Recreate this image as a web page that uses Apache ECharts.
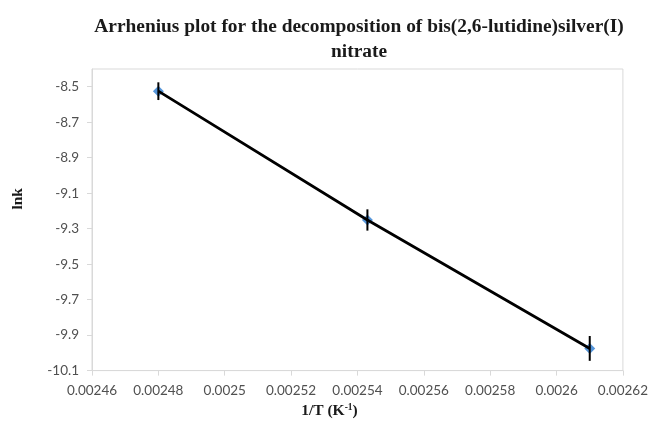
<!DOCTYPE html>
<html>
<head>
<meta charset="utf-8">
<script src="https://cdn.jsdelivr.net/npm/echarts@6/dist/echarts.min.js"></script>
<style>html,body{margin:0;padding:0;background:#fff}#c{width:651px;height:424px}</style>
</head>
<body>
<div id="c"></div>
<script>
// Data
const invT = [0.00248, 0.002543, 0.00261];
const lnk = [-8.525, -9.251, -9.975];
const lnkErr = [0.05, 0.06, 0.07];
const xTicks = [0.00246, 0.00248, 0.0025, 0.00252, 0.00254, 0.00256, 0.00258, 0.0026, 0.00262];
const yTicks = [-10.1, -9.9, -9.7, -9.5, -9.3, -9.1, -8.9, -8.7, -8.5];

const points = invT.map((x, i) => [x, lnk[i]]);
const errData = invT.map((x, i) => [x, lnk[i] - lnkErr[i], lnk[i] + lnkErr[i]]);

const chart = echarts.init(document.getElementById('c'));
const labelFont = { color: '#505050', fontSize: 13.5, fontFamily: 'Lato' };
chart.setOption({
  animation: false,
  title: {
    text: 'Arrhenius plot for the decomposition of bis(2,6-lutidine)silver(I)\nnitrate',
    left: 354, top: 9, textAlign: 'center',
    textStyle: { fontFamily: 'Liberation Serif', fontWeight: 'bold', fontSize: 19.4, lineHeight: 25, color: '#1a1a1a' }
  },
  grid: { left: 92, right: 24, top: 69, bottom: 51, show: true, borderColor: '#d9d9d9', borderWidth: 1 },
  xAxis: {
    type: 'value', min: 0.00246, max: 0.00262, interval: 0.00002,
    name: '{b|1/T (K}{s|-1}{b|)}', nameLocation: 'middle', nameGap: 29,
    nameTextStyle: {
      padding: [0, 56, 0, 0],
      rich: {
        b: { fontFamily: 'Liberation Serif', fontWeight: 'bold', fontSize: 15.5, color: '#1a1a1a' },
        s: { fontFamily: 'Liberation Serif', fontWeight: 'bold', fontSize: 9.5, color: '#1a1a1a', padding: [0, 0, 7, 0] }
      }
    },
    axisLine: { lineStyle: { color: '#d9d9d9' } },
    axisTick: { show: true, length: 5, lineStyle: { color: '#d9d9d9' }, customValues: xTicks },
    axisLabel: Object.assign({ margin: 13, customValues: xTicks, formatter: v => String(+v.toFixed(5)) }, labelFont),
    splitLine: { show: false }
  },
  yAxis: {
    type: 'value', min: -10.1, max: -8.4, interval: 0.2,
    name: 'lnk', nameLocation: 'middle', nameGap: 66,
    nameTextStyle: { fontFamily: 'Liberation Serif', fontWeight: 'bold', fontSize: 15.5, color: '#1a1a1a', padding: [0, 0, 0, 42] },
    axisLine: { show: true, lineStyle: { color: '#d9d9d9' } },
    axisTick: { show: true, length: 5, lineStyle: { color: '#d9d9d9' }, customValues: yTicks },
    axisLabel: Object.assign({ margin: 13, customValues: yTicks, formatter: v => String(+v.toFixed(1)) }, labelFont),
    splitLine: { show: false }
  },
  series: [
    {
      type: 'scatter', data: points, symbol: 'diamond', symbolSize: 11,
      itemStyle: { color: '#2a7bd0' }, z: 2
    },
    {
      type: 'line', data: points, showSymbol: false, symbol: 'none',
      lineStyle: { color: '#000', width: 2.8 }, z: 3
    },
    {
      type: 'custom', data: errData, z: 4,
      renderItem: function (params, api) {
        const top = api.coord([api.value(0), api.value(2)]);
        const bot = api.coord([api.value(0), api.value(1)]);
        return { type: 'line', shape: { x1: top[0], y1: top[1], x2: bot[0], y2: bot[1] }, style: { stroke: '#000', lineWidth: 2 } };
      },
      encode: { x: 0, y: [1, 2] }
    }
  ]
});
</script>
</body>
</html>
